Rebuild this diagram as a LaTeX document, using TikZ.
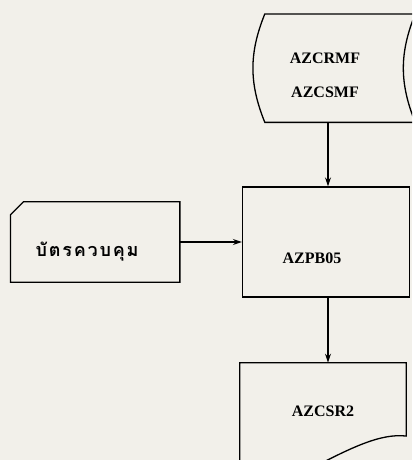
\documentclass[tikz,border=0pt]{standalone}
\usepackage{fontspec}
\setmainfont{Liberation Serif}
\newfontfamily\thaifont[Script=Thai,LetterSpace=10]{Loma}
\usetikzlibrary{positioning, arrows.meta}
\definecolor{paper}{RGB}{242,240,234}
\tikzstyle{process} = [rectangle, minimum width=167pt, minimum height=110pt, text centered, draw=black, line width=1.3pt]
\tikzstyle{cardbox} = [rectangle, minimum width=169pt, minimum height=80pt, text centered]
\tikzstyle{storage} = [rectangle, minimum width=150pt, minimum height=108pt, text centered, align=center]
\tikzstyle{document} = [rectangle, minimum width=166pt, minimum height=96pt, text centered]
\tikzstyle{outline} = [draw=black, line width=1.3pt]
\tikzstyle{flow} = [-{Stealth[length=9pt, width=6pt]}, line width=1.3pt]

\begin{document}
\begin{tikzpicture}[x=1pt, y=-1pt, font=\fontsize{16}{20}\selectfont\bfseries]
    \useasboundingbox (0,0) rectangle (412,460);
    \clip (0,0) rectangle (412,460);
    \fill[paper] (0,0) rectangle (412,460);

    \node(azpb)[process, label={[xshift=-14pt, yshift=-16pt]center:AZPB05}] at (326,242) {};
    \node(azcrmf)[storage, above=64pt of azpb, xshift=2pt] {};
    \node(azcrmfText)[align=center, below=35pt of azcrmf.north, xshift=-3pt] {AZCRMF\\[14pt]AZCSMF};
    \node(card)[cardbox, left=62pt of azpb, label={[xshift=-8pt, yshift=-10pt]center:\thaifont\fontsize{18}{20}\selectfont บัตรควบคุม}] {};
    \node(azcsr)[document, below=65pt of azpb, xshift=-3pt] {AZCSR2};

    % stored data outline
    \draw[outline] ([xshift=12pt]azcrmf.north west) -- ([xshift=12pt]azcrmf.north east)
        to[bend right=22] ([xshift=12pt]azcrmf.south east) -- ([xshift=12pt]azcrmf.south west)
        to[bend left=22] ([xshift=12pt]azcrmf.north west) -- cycle;
    % card outline with cut corner
    \draw[outline] ([xshift=13pt]card.north west) -- (card.north east) -- (card.south east)
        -- (card.south west) -- ([yshift=-13pt]card.north west) -- cycle;
    % document outline, wavy bottom
    \draw[outline] (azcsr.north west) -- (azcsr.north east) -- ([yshift=23pt]azcsr.south east)
        .. controls ([xshift=-26pt, yshift=26pt]azcsr.south east) and ([xshift=-56pt, yshift=11pt]azcsr.south east) .. ([xshift=-100pt, yshift=-12pt]azcsr.south east)
        -- ([yshift=-20pt]azcsr.south west) -- cycle;

    \draw[flow] (azcrmf) -- (azcrmf |- azpb.north);
    \draw[flow] (card) -- (azpb);
    \draw[flow] (azcrmf |- azpb.south) -- (azcrmf |- azcsr.north);
\end{tikzpicture}
\end{document}
